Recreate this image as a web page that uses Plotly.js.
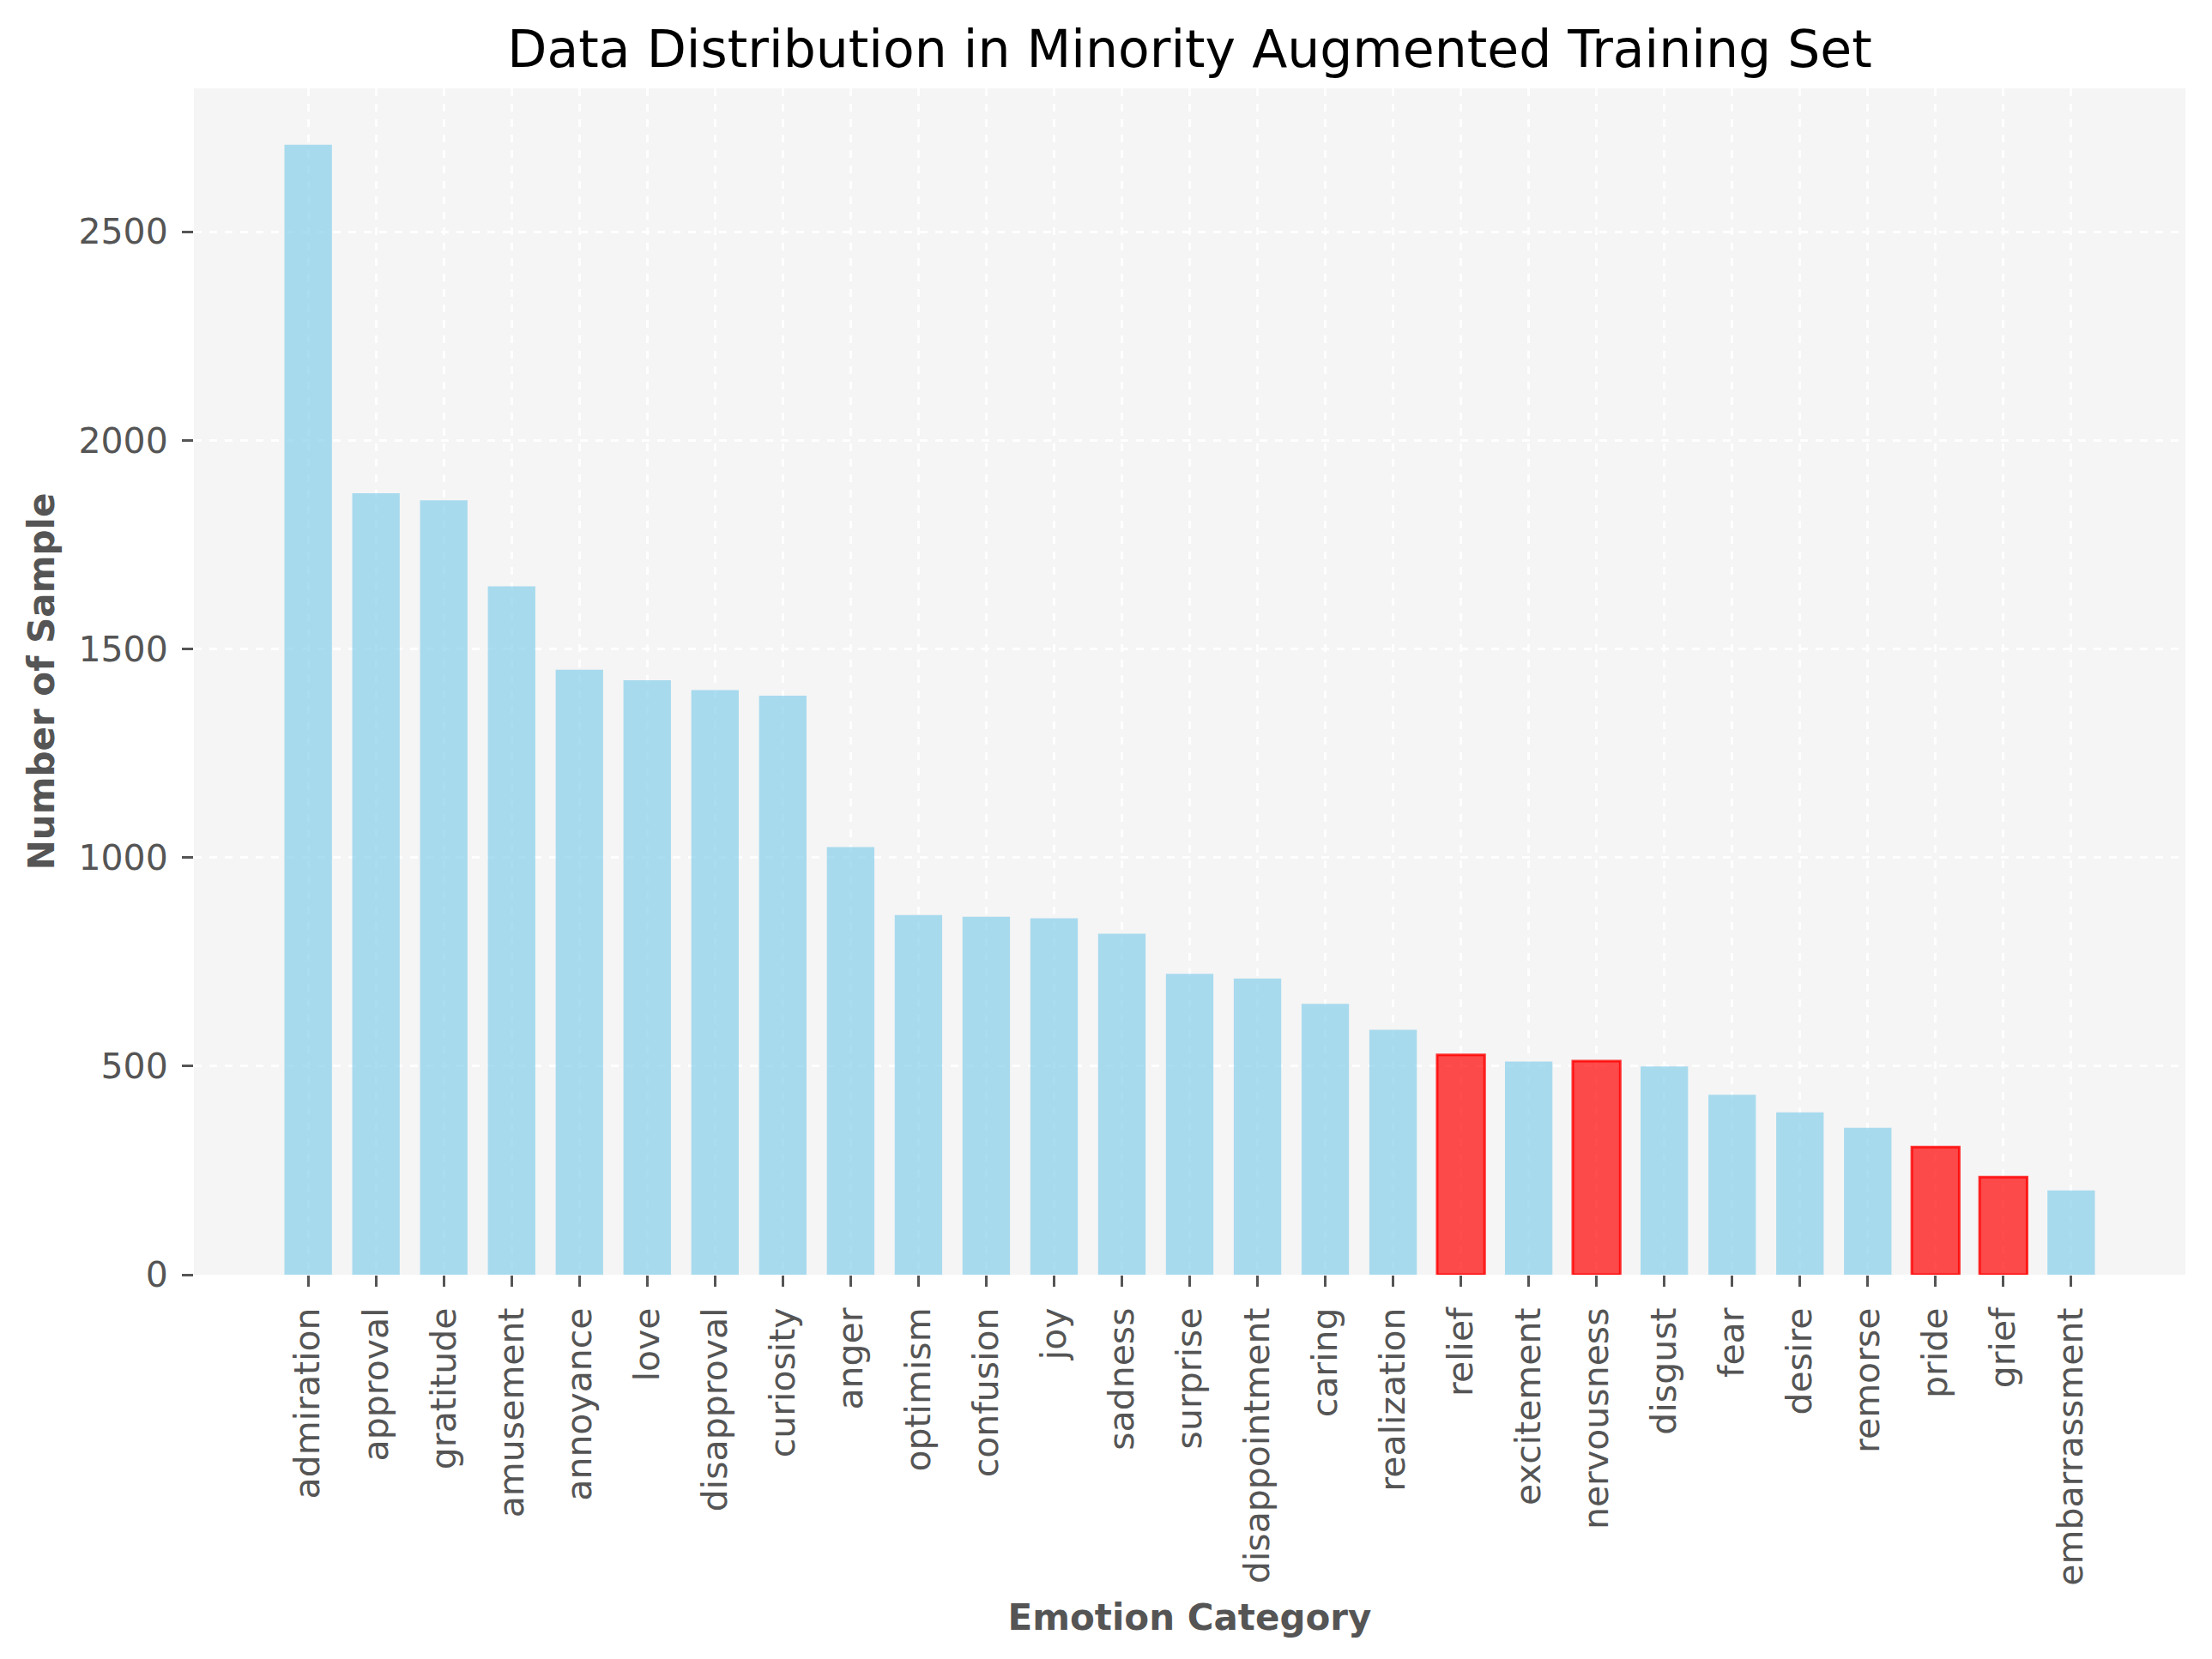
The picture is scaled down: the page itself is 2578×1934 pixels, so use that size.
<!DOCTYPE html>
<html>
<head>
<meta charset="utf-8">
<script src="https://cdn.plot.ly/plotly-3.0.1.min.js"></script>
<style>
  body { margin: 0; background: #ffffff; }
  #chart { width: 2578px; height: 1934px; }
</style>
</head>
<body>
<div id="chart"></div>
<script>
var emotions = ['admiration', 'approval', 'gratitude', 'amusement', 'annoyance', 'love',
  'disapproval', 'curiosity', 'anger', 'optimism', 'confusion', 'joy', 'sadness',
  'surprise', 'disappointment', 'caring', 'realization', 'relief', 'excitement',
  'nervousness', 'disgust', 'fear', 'desire', 'remorse', 'pride', 'grief', 'embarrassment'];
var counts = [2708, 1873, 1856, 1650, 1450, 1425, 1401, 1388, 1025, 862, 858, 854, 817,
  721, 710, 649, 587, 527, 511, 512, 499, 431, 389, 352, 306, 234, 202];
// augmented minority classes are drawn in red
var augmented = ['relief', 'nervousness', 'pride', 'grief'];
var yTicks = [0, 500, 1000, 1500, 2000, 2500];

var fillColors = emotions.map(e => augmented.includes(e) ? 'rgba(255,0,0,0.7)' : 'rgba(135,206,235,0.7)');
var edgeColors = emotions.map(e => augmented.includes(e) ? 'rgba(255,0,0,0.8)' : 'rgba(0,0,0,0)');
var edgeWidths = emotions.map(e => augmented.includes(e) ? 3 : 0);

var trace1 = {
  x: emotions,
  y: counts,
  type: 'bar',
  width: 0.7,
  marker: {color: fillColors, line: {color: edgeColors, width: edgeWidths}},
  hoverinfo: 'x+y'
};

var nBars = emotions.length;
var pad = 0.05 * (nBars - 1 + 0.7);
var yMax = Math.max(...counts) * 1.05;

var tickFont = {family: 'DejaVu Sans', size: 41, color: '#555555'};
var layout = {
  width: 2578, height: 1934,
  margin: {l: 226, r: 31, t: 103, b: 448},
  paper_bgcolor: '#ffffff',
  plot_bgcolor: '#f5f5f5',
  showlegend: false,
  bargap: 0.3,
  title: {
    text: 'Data Distribution in Minority Augmented Training Set',
    font: {family: 'DejaVu Sans', size: 60, color: '#000000'},
    xref: 'paper', x: 0.5, xanchor: 'center',
    yref: 'container', y: 1 - 57 / 1934, yanchor: 'middle'
  },
  xaxis: {
    type: 'category',
    range: [-0.35 - pad, nBars - 1 + 0.35 + pad],
    tickangle: -90,
    tickfont: tickFont,
    ticks: 'outside', ticklen: 13, tickwidth: 3, tickcolor: '#555555',
    ticklabelstandoff: 8,
    showgrid: true, gridcolor: 'rgba(255,255,255,0.9)', gridwidth: 3, griddash: 'dash',
    showline: false, zeroline: false,
    automargin: false,
    title: {
      text: '<b>Emotion Category</b>',
      font: {family: 'DejaVu Sans', size: 42, color: '#555555'},
      standoff: 22
    }
  },
  yaxis: {
    range: [0, yMax],
    tickvals: yTicks,
    ticktext: yTicks.map(String),
    tickfont: tickFont,
    ticks: 'outside', ticklen: 13, tickwidth: 3, tickcolor: '#555555',
    ticklabelstandoff: 8,
    showgrid: true, gridcolor: 'rgba(255,255,255,0.9)', gridwidth: 3, griddash: 'dash',
    showline: false, zeroline: false,
    automargin: false,
    title: {
      text: '<b>Number of Sample</b>',
      font: {family: 'DejaVu Sans', size: 42, color: '#555555'},
      standoff: 14
    }
  }
};

Plotly.newPlot('chart', [trace1], layout, {staticPlot: true});
</script>
</body>
</html>
